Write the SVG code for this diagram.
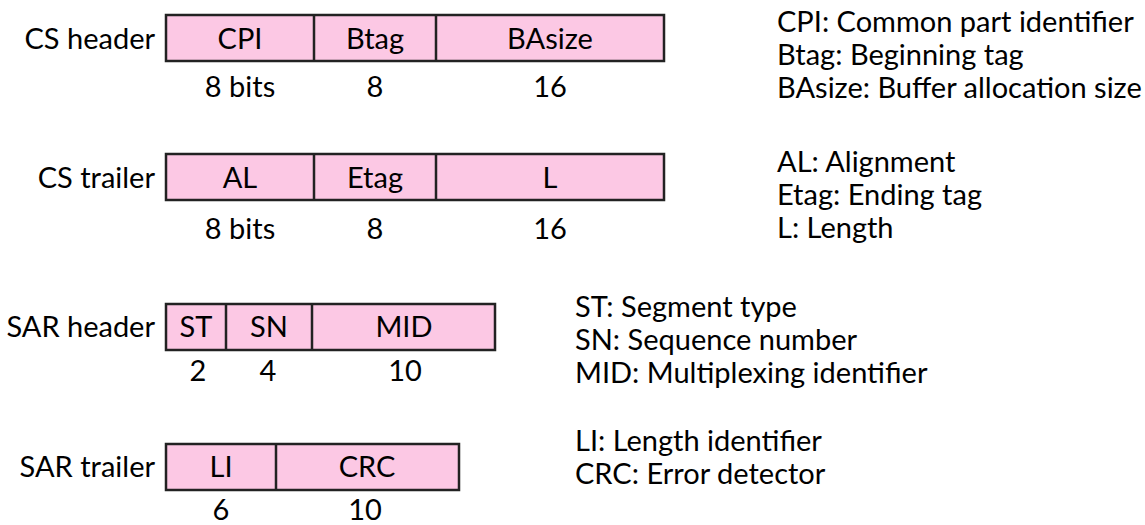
<svg xmlns="http://www.w3.org/2000/svg" width="1145" height="525" viewBox="0 0 1145 525">
  <style>
    .t { font-family: Lato, "Liberation Sans", sans-serif; font-size: 29px; fill: #000; }
    .m { text-anchor: middle; }
    .e { text-anchor: end; }
    .box { fill: #fcc8e4; stroke: #222; stroke-width: 2.5; }
    .div { stroke: #222; stroke-width: 2.5; }
  </style>

  <!-- CS header: CPI | Btag | BAsize -->
  <g id="cs-header">
    <text class="t e" x="155" y="49">CS header</text>
    <rect class="box" x="166" y="15" width="498" height="46"/>
    <line class="div" x1="314" y1="15" x2="314" y2="61"/>
    <line class="div" x1="436" y1="15" x2="436" y2="61"/>
    <text class="t m" x="240" y="49">CPI</text>
    <text class="t m" x="375" y="49">Btag</text>
    <text class="t m" x="550" y="49">BAsize</text>
    <text class="t m" x="240" y="97">8 bits</text>
    <text class="t m" x="375" y="97">8</text>
    <text class="t m" x="550" y="97">16</text>
  </g>

  <!-- CS trailer: AL | Etag | L -->
  <g id="cs-trailer">
    <text class="t e" x="155" y="188">CS trailer</text>
    <rect class="box" x="166" y="154" width="498" height="46"/>
    <line class="div" x1="314" y1="154" x2="314" y2="200"/>
    <line class="div" x1="436" y1="154" x2="436" y2="200"/>
    <text class="t m" x="240" y="188">AL</text>
    <text class="t m" x="375" y="188">Etag</text>
    <text class="t m" x="550" y="188">L</text>
    <text class="t m" x="240" y="239">8 bits</text>
    <text class="t m" x="375" y="239">8</text>
    <text class="t m" x="550" y="239">16</text>
  </g>

  <!-- SAR header: ST | SN | MID -->
  <g id="sar-header">
    <text class="t e" x="155" y="337">SAR header</text>
    <rect class="box" x="166" y="304" width="329" height="46"/>
    <line class="div" x1="226" y1="304" x2="226" y2="350"/>
    <line class="div" x1="312" y1="304" x2="312" y2="350"/>
    <text class="t m" x="196" y="337">ST</text>
    <text class="t m" x="269" y="337">SN</text>
    <text class="t m" x="404" y="337">MID</text>
    <text class="t m" x="198" y="381">2</text>
    <text class="t m" x="268" y="381">4</text>
    <text class="t m" x="405" y="381">10</text>
  </g>

  <!-- SAR trailer: LI | CRC -->
  <g id="sar-trailer">
    <text class="t e" x="155" y="477">SAR trailer</text>
    <rect class="box" x="166" y="444" width="293" height="46"/>
    <line class="div" x1="276" y1="444" x2="276" y2="490"/>
    <text class="t m" x="221" y="477">LI</text>
    <text class="t m" x="367" y="477">CRC</text>
    <text class="t m" x="221" y="520">6</text>
    <text class="t m" x="365" y="520">10</text>
  </g>

  <!-- field legends -->
  <g id="legend-cs-header">
    <text class="t" x="777" y="32">CPI: Common part identifier</text>
    <text class="t" x="777" y="65">Btag: Beginning tag</text>
    <text class="t" x="777" y="98">BAsize: Buffer allocation size</text>
  </g>
  <g id="legend-cs-trailer">
    <text class="t" x="777" y="172">AL: Alignment</text>
    <text class="t" x="777" y="205">Etag: Ending tag</text>
    <text class="t" x="777" y="238">L: Length</text>
  </g>
  <g id="legend-sar-header">
    <text class="t" x="575" y="317">ST: Segment type</text>
    <text class="t" x="575" y="350">SN: Sequence number</text>
    <text class="t" x="575" y="383">MID: Multiplexing identifier</text>
  </g>
  <g id="legend-sar-trailer">
    <text class="t" x="575" y="451">LI: Length identifier</text>
    <text class="t" x="575" y="484">CRC: Error detector</text>
  </g>
</svg>
